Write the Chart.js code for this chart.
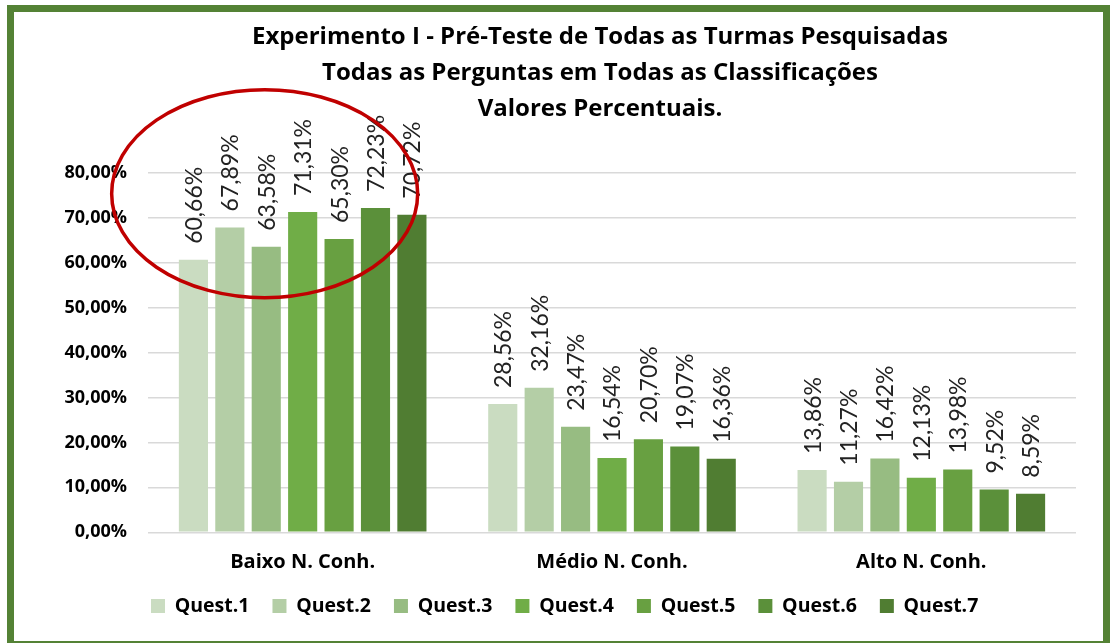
<!DOCTYPE html>
<html>
<head>
<meta charset="utf-8">
<script src="https://cdn.jsdelivr.net/npm/chart.js@4.4.1/dist/chart.umd.min.js"></script>
<style>
  html, body { margin: 0; padding: 0; background: #fff; overflow: hidden; }
  #frame { position: absolute; left: 7px; top: 5px; width: 1103px; height: 643px; box-sizing: border-box; border: 7px solid #548235; }
  #c { position: absolute; left: 0; top: 0; }
</style>
</head>
<body>
<div id="frame"></div>
<canvas id="c" width="1113" height="643"></canvas>
<script>
const categories = ["Baixo N. Conh.", "Médio N. Conh.", "Alto N. Conh."];
const seriesNames = ["Quest.1", "Quest.2", "Quest.3", "Quest.4", "Quest.5", "Quest.6", "Quest.7"];
const quest1 = [60.66, 28.56, 13.86];
const quest2 = [67.89, 32.16, 11.27];
const quest3 = [63.58, 23.47, 16.42];
const quest4 = [71.31, 16.54, 12.13];
const quest5 = [65.30, 20.70, 13.98];
const quest6 = [72.23, 19.07, 9.52];
const quest7 = [70.72, 16.36, 8.59];
const seriesColors = ["#CADCC1", "#B4CEA6", "#97BC82", "#70AD47", "#68A041", "#5B903A", "#507D32"];
const titleLines = ["Experimento I - Pré-Teste de Todas as Turmas Pesquisadas", "Todas as Perguntas em Todas as Classificações", "Valores Percentuais."];
const yTicksMax = 80;
const yTickStep = 10;

const allSeries = [quest1, quest2, quest3, quest4, quest5, quest6, quest7];
const fmt = v => v.toFixed(2).replace('.', ',') + '%';

const valueLabels = {
  id: 'valueLabels',
  afterDatasetsDraw(chart) {
    const ctx = chart.ctx;
    ctx.save();
    ctx.font = '23px Lato';
    ctx.fillStyle = '#222';
    chart.data.datasets.forEach((ds, i) => {
      const meta = chart.getDatasetMeta(i);
      meta.data.forEach((bar, j) => {
        ctx.save();
        ctx.translate(bar.x + 1, bar.y - 16);
        ctx.rotate(-Math.PI / 2);
        ctx.textAlign = 'left';
        ctx.textBaseline = 'middle';
        ctx.fillText(fmt(ds.data[j]), 0, 0);
        ctx.restore();
      });
    });
    ctx.restore();
  }
};

const highlight = {
  id: 'highlight',
  afterDraw(chart) {
    const x = chart.scales.x, y = chart.scales.y;
    const ctx = chart.ctx;
    ctx.save();
    ctx.beginPath();
    ctx.ellipse(x.getPixelForValue(0) - 38, y.getPixelForValue(75.4), 153, 104, 0, 0, Math.PI * 2);
    ctx.strokeStyle = '#C00000';
    ctx.lineWidth = 3.5;
    ctx.stroke();
    ctx.restore();
  }
};

// let axis labels extend outside their (narrow) layout boxes without being clipped
const unclipLabels = {
  id: 'unclipLabels',
  afterLayout(chart) {
    chart.scales.y.left = 30;
    chart.scales.x.bottom += 20;
    chart.legend.left += 4;
  }
};

new Chart(document.getElementById('c'), {
  type: 'bar',
  data: {
    labels: categories,
    datasets: allSeries.map((d, i) => ({
      label: seriesNames[i],
      data: d,
      backgroundColor: seriesColors[i],
      borderWidth: 0,
      barPercentage: 0.8,
      categoryPercentage: 0.824
    }))
  },
  options: {
    responsive: false,
    animation: false,
    layout: { padding: { left: 124, right: 37, top: 7, bottom: 17.25 } },
    plugins: {
      title: {
        display: true,
        text: titleLines,
        color: '#000',
        font: { family: 'Open Sans', size: 24, weight: 'bold', lineHeight: 36 / 24 },
        padding: { top: 12, bottom: 46 }
      },
      legend: {
        position: 'bottom',
        align: 'start',
        labels: {
          color: '#000',
          font: { family: 'Open Sans', size: 19.5, weight: 'bold' },
          boxWidth: 14,
          boxHeight: 14,
          padding: 23
        }
      },
      tooltip: { enabled: false }
    },
    scales: {
      x: {
        grid: { display: false, drawTicks: false },
        border: { display: false },
        ticks: { color: '#000', font: { family: 'Open Sans', size: 20, weight: 'bold' }, padding: 18 },
        afterFit(s) { s.height = 41; }
      },
      y: {
        min: 0,
        max: yTicksMax,
        grid: { color: '#D9D9D9', lineWidth: 1.5, drawTicks: false },
        border: { display: false },
        ticks: {
          stepSize: yTickStep,
          padding: 21,
          color: '#000',
          font: { family: 'Open Sans', size: 18, weight: 'bold' },
          callback: v => v.toFixed(2).replace('.', ',') + '%'
        },
        afterFit(s) { s.width = 24; }
      }
    }
  },
  plugins: [valueLabels, highlight, unclipLabels]
});
</script>
</body>
</html>
